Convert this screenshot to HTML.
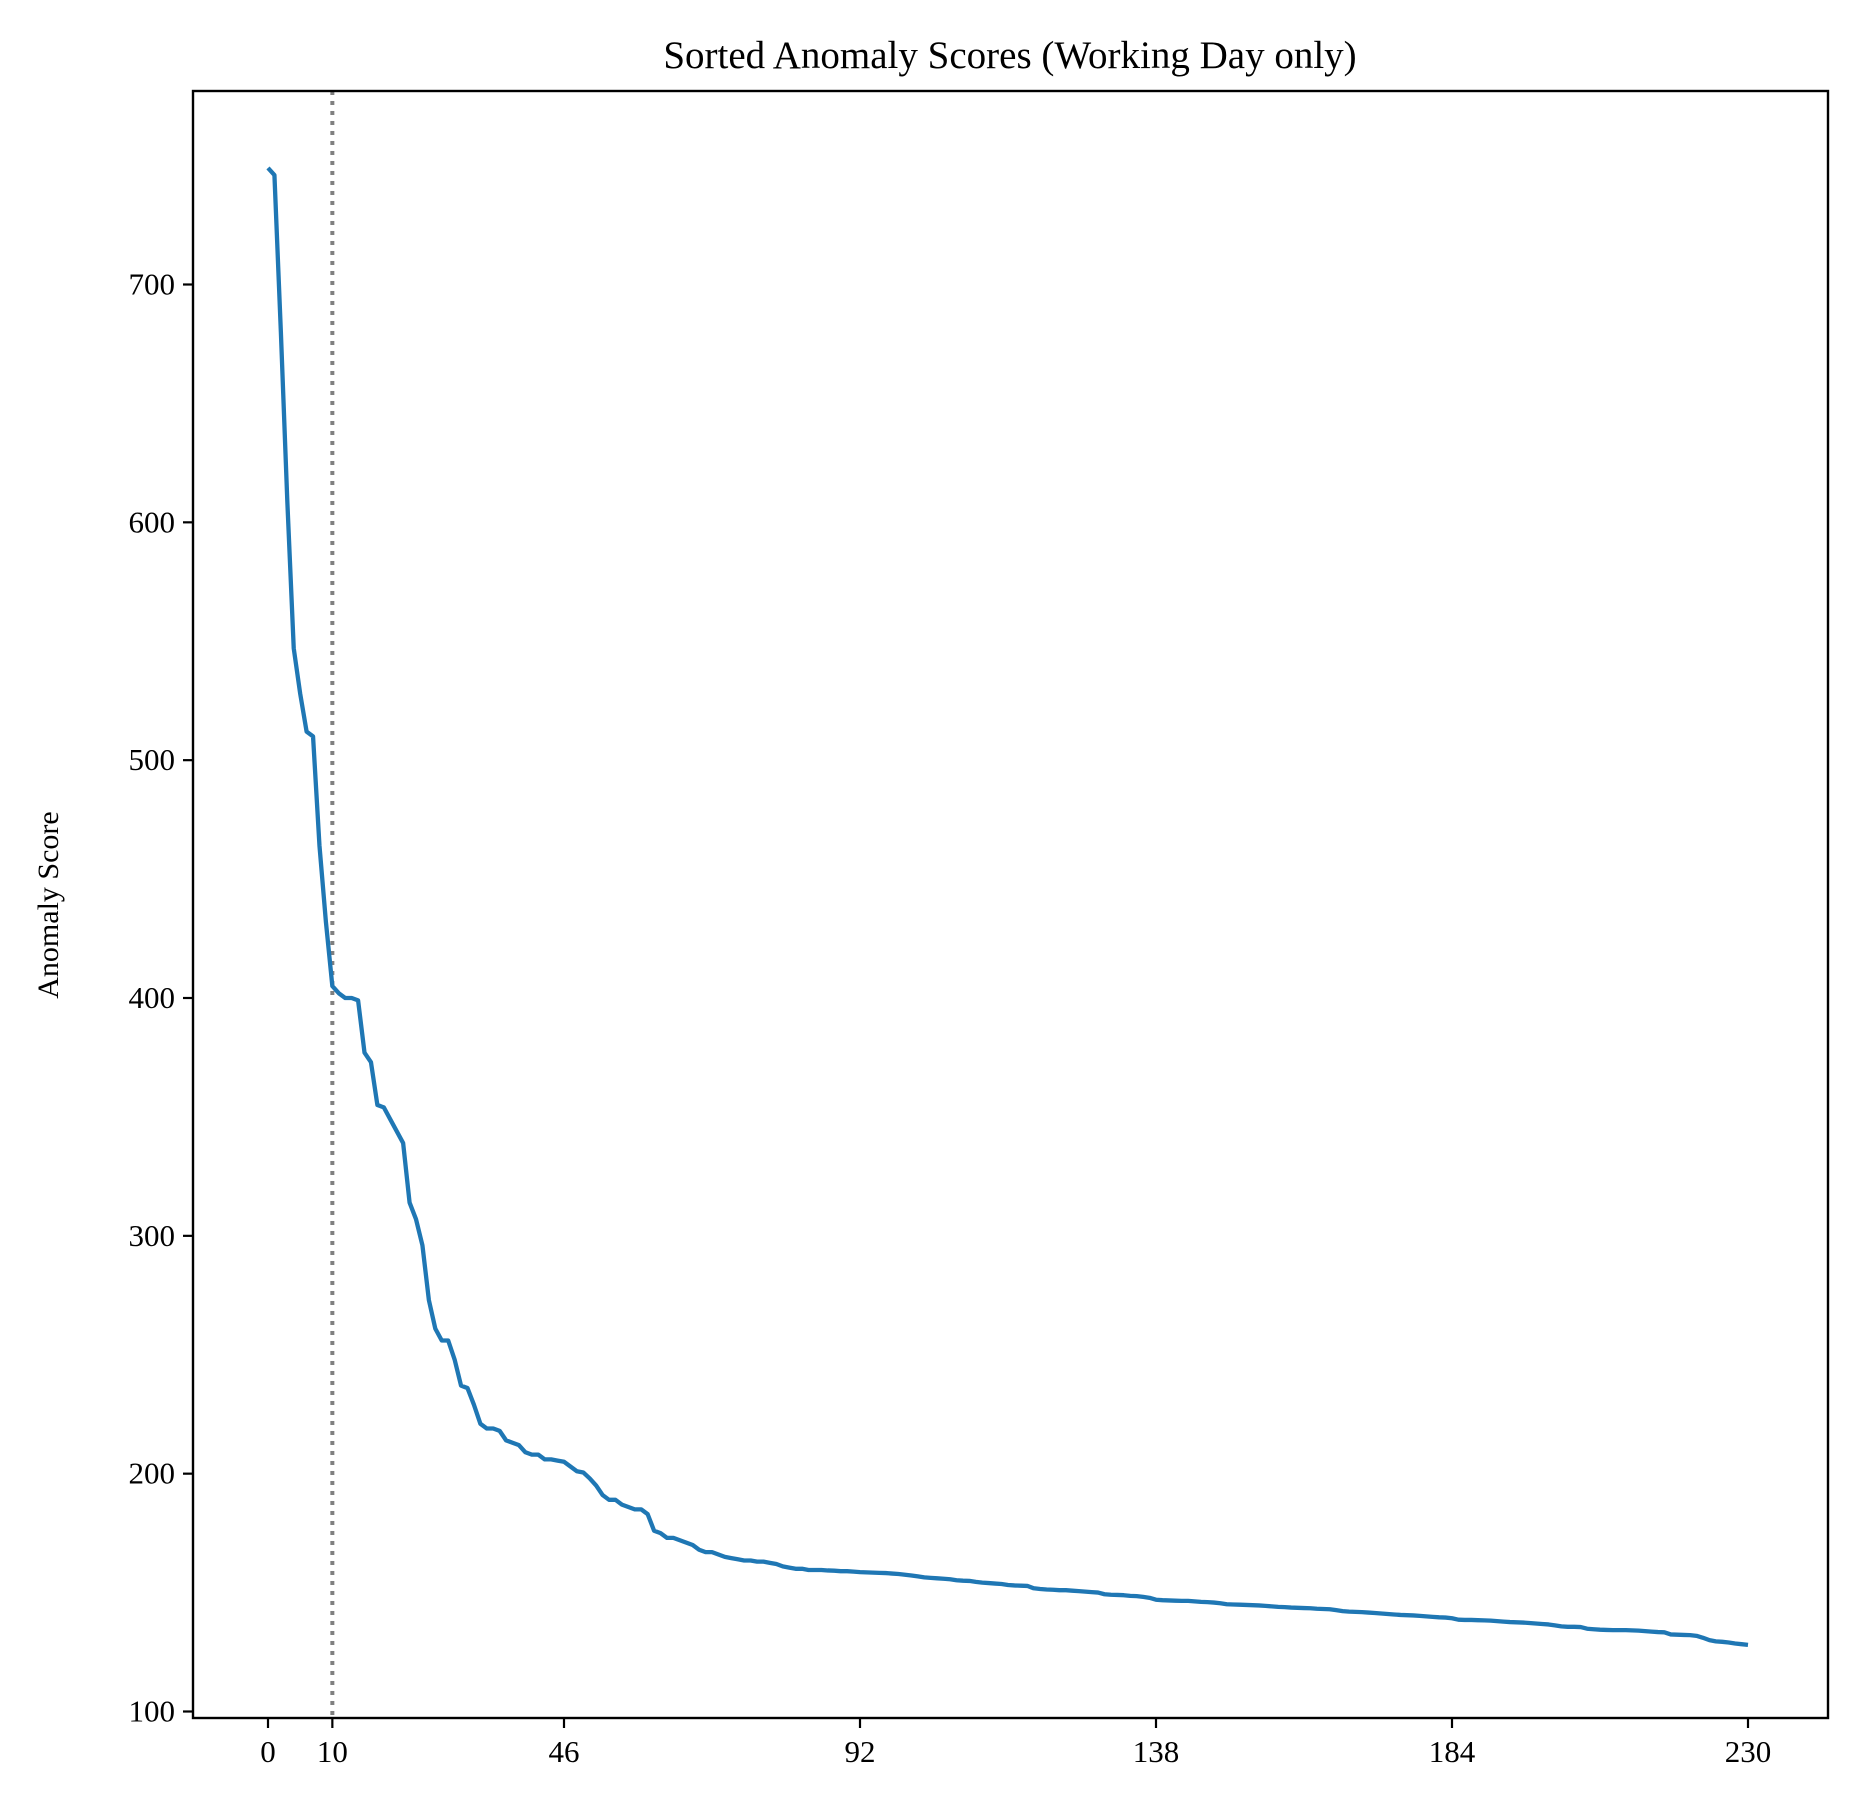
<!DOCTYPE html>
<html><head><meta charset="utf-8"><style>
html,body{margin:0;padding:0;background:#fff}
svg text{font-family:"Liberation Serif",serif;fill:#000}
</style></head><body>
<svg id="chart" width="1849" height="1810" viewBox="0 0 1849 1810" xmlns="http://www.w3.org/2000/svg">
<rect width="1849" height="1810" fill="#fff"/>
<text x="1010" y="68" font-size="39" text-anchor="middle">Sorted Anomaly Scores (Working Day only)</text>
<text transform="translate(58,905) rotate(-90)" font-size="30" text-anchor="middle">Anomaly Score</text>
<g id="plot"></g>
<rect x="193" y="91" width="1635" height="1627" fill="none" stroke="#000" stroke-width="2.4"/>
</svg>
<script>
const scores = [749,746,680,609,547,528,512,510,464,432,
405,402,400,400,399,377,373,355,354,349,
344,339,314,307,296,273,261,256,256,248,
237,236,229,221,219,219,218,214,213,212,
209,208,208,206,206,205.5,205,203,201,200.5,
198,195,191,189,189,187,186,185,185,183,
176,175,173,173,172,171,170,168,167,167,
166,165,164.5,164,163.5,163.5,163,163,162.5,162,
161,160.5,160,160,159.5,159.5,159.5,159.3,159.2,159,
159,158.8,158.6,158.5,158.4,158.3,158.2,158,157.8,157.5,
157.2,156.8,156.4,156.2,156,155.8,155.6,155.2,155,154.9,
154.5,154.2,154,153.8,153.6,153.2,153,152.9,152.8,151.8,
151.5,151.3,151.2,151,151,150.8,150.6,150.4,150.2,150,
149.3,149.1,149,148.9,148.6,148.5,148.2,147.8,147,146.8,
146.7,146.6,146.5,146.5,146.3,146.1,146,145.8,145.5,145.1,
145,144.9,144.8,144.7,144.6,144.4,144.2,144,143.9,143.7,
143.6,143.5,143.4,143.2,143.1,143,142.6,142.2,142,141.9,
141.8,141.6,141.4,141.2,141,140.8,140.6,140.5,140.4,140.2,
140,139.8,139.6,139.5,139.2,138.6,138.5,138.5,138.4,138.3,
138.2,138,137.8,137.6,137.5,137.4,137.2,137,136.8,136.6,
136.2,135.8,135.6,135.6,135.5,134.8,134.6,134.4,134.3,134.2,
134.2,134.2,134.1,134,133.8,133.6,133.4,133.3,132.4,132.3,
132.2,132.1,131.8,131,130,129.5,129.3,129,128.6,128.3,
128];
const xTicks = [0,10,46,92,138,184,230];
const yTicks = [100,200,300,400,500,600,700];
const cutoff = 10;

const NS = "http://www.w3.org/2000/svg";
const g = document.getElementById('plot');
function xs(i){ return 268 + i * (1748 - 268) / 230; }
function ys(v){ return 1711.5 - (v - 100) * (1711.5 - 284.5) / 600; }
function mk(tag, attrs){ const e = document.createElementNS(NS, tag); for (const k in attrs) e.setAttribute(k, attrs[k]); return e; }

xTicks.forEach(t => {
  const l = mk('line', {x1: xs(t), x2: xs(t), y1: 1718, y2: 1728, stroke: '#000', 'stroke-width': 2.2});
  
  
  g.appendChild(l);
  const tx = mk('text', {x: xs(t), y: 1762, 'font-size': 31, 'text-anchor': 'middle'});
  tx.textContent = t;
  
  
  g.appendChild(tx);
});
yTicks.forEach(t => {
  const l = mk('line', {x1: 183, x2: 193, y1: ys(t), y2: ys(t), stroke: '#000', 'stroke-width': 2.2});
  
  
  g.appendChild(l);
  const tx = mk('text', {x: 175, y: ys(t) + 10, 'font-size': 31, 'text-anchor': 'end'});
  tx.textContent = t;
  
  
  g.appendChild(tx);
});

const vl = mk('line', {x1: xs(cutoff), x2: xs(cutoff), y1: 91, y2: 1718, stroke: '#808080', 'stroke-width': 4, 'stroke-dasharray': '4,6'});


g.appendChild(vl);

const pts = scores.map((v, i) => xs(i).toFixed(2) + ',' + ys(v).toFixed(2)).join(' ');
const pl = mk('polyline', {points: pts, fill: 'none', stroke: '#1f77b4', 'stroke-width': 4.3, 'stroke-linejoin': 'round'});


g.appendChild(pl);
</script>
</body></html>
